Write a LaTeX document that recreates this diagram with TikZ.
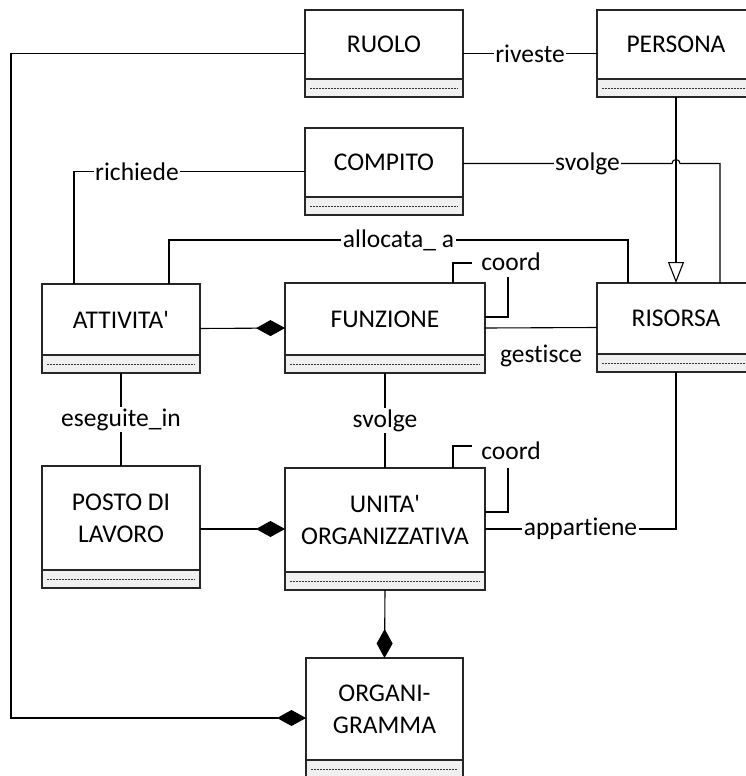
\documentclass[tikz,border=0pt]{standalone}
\usepackage{fontspec}
\setmainfont{Carlito}[Ligatures={TeXOff,NoCommon}]
\usetikzlibrary{arrows.meta,fit,calc}

% UML class: upper compartment with the name, empty attribute compartment below,
% and an invisible node #1 that spans the whole class for the connectors
\newcommand\umlclass[6]{%
  \node[clstop, minimum width=#4pt, minimum height=#5pt] (#1-t) at (#2,#3) {#6};
  \node[clsattr, minimum width=#4pt] (#1-a) at (#1-t.south) {};
  \node[fit=(#1-t)(#1-a), inner sep=0pt, outer sep=0pt] (#1) {};
}

\begin{document}
\begin{tikzpicture}[x=1pt,y=-1pt,
  font=\fontsize{25.5}{32}\selectfont,
  clstop/.style={draw=black!85, line width=1.3pt, fill=white, inner sep=0pt,
    outer sep=0pt, align=center, anchor=north west},
  clsattr/.style={draw=black!85, line width=1.3pt, fill=black!6, inner sep=0pt,
    outer sep=0pt, minimum height=18pt, anchor=north,
    path picture={\draw[black!80, line width=1pt, dash pattern=on 2pt off 1pt]
      ($(path picture bounding box.west)+(5pt,0)$) --
      ($(path picture bounding box.east)+(-5pt,0)$);}},
  conn/.style={draw=black, line width=1.1pt},
  comp/.style={conn, -{Diamond[length=29pt,width=16pt]}},
  gen/.style={conn, -{Triangle[open,length=21pt,width=16pt,fill=white]}},
  lbl/.style={fill=white, inner sep=1.5pt},
]
\useasboundingbox (0,0) rectangle (745,776);
\fill[white] (0,0) rectangle (745,776);

% classes
\umlclass{ruolo}{305}{10}{158}{69}{RUOLO}
\umlclass{persona}{597}{10}{158}{69}{PERSONA}
\umlclass{compito}{305}{128}{158}{69}{COMPITO}
\umlclass{attivita}{42}{284}{158}{71}{ATTIVITA'}
\umlclass{funzione}{285}{283}{200}{72}{FUNZIONE}
\umlclass{risorsa}{597}{283}{158}{71}{RISORSA}
\umlclass{posto}{42}{466}{158}{104}{POSTO DI\\LAVORO}
\umlclass{unita}{285}{468}{200}{104}{UNITA'\\ORGANIZZATIVA}
\umlclass{organigramma}{306}{658}{157}{102}{ORGANI-\\GRAMMA}

% reference columns for the routed connectors
\coordinate (leftrail) at (11,0);
\coordinate (richx) at (74,0);
\coordinate (allocl) at (169,0);
\coordinate (allocr) at (628,0);
\coordinate (svolgex) at (720,0);

% RUOLO -- ORGANIGRAMMA
\draw[comp] (ruolo.west) -- (leftrail |- ruolo.west) -- (leftrail |- organigramma.west)
  -- (organigramma.west);

% riveste
\draw[conn] (ruolo.east) -- node[lbl]{riveste} (persona.west);

% PERSONA is a RISORSA
\draw[gen] (persona.south) -- (risorsa.north);

% svolge (COMPITO -- RISORSA), hopping over the generalization line
\coordinate (svy) at ($(compito.east)+(0,-8)$);
\draw[conn] (svy) -- ($(persona.south |- svy)+(-4,0)$)
  arc[start angle=180, end angle=0, radius=4pt]
  -- (svolgex |- svy) -- (svolgex |- risorsa.north);
\node[lbl] (svolgelbl) at ($(svy)!0.5!(svolgex |- svy)+(-4,0)$) {svolge};

% richiede
\draw[conn] (compito.west) -- (richx |- compito.west) -- (richx |- attivita.north);
\node[lbl] (richlbl) at (137,0 |- compito.west) {richiede};

% allocata_ a
\draw[conn] (allocl |- attivita.north) -- (allocl |- 0,240)
  -- node[lbl]{allocata\_ a} (allocr |- 0,240) -- (allocr |- risorsa.north);

% ATTIVITA' part of FUNZIONE
\draw[comp] (attivita.east) -- (funzione.west);

% coord (FUNZIONE self association)
\draw[conn] (453,0 |- funzione.north) -- (453,263) -- (472,263);
\draw[conn] (508,277) -- (508,317) -- (funzione.east |- 0,317);
\node (fcoord) at (511,262) {coord};

% gestisce
\draw[conn] (funzione.east) -- (risorsa.west);
\node (gestlbl) at ($(funzione.east)!0.5!(risorsa.west)+(0,28)$) {gestisce};

% eseguite_in
\draw[conn] (attivita.south) -- node[lbl]{eseguite\_in} (posto.north);

% svolge (FUNZIONE -- UNITA')
\draw[conn] (funzione.south) -- node[lbl]{svolge} (unita.north);

% coord (UNITA' self association)
\draw[conn] (453,0 |- unita.north) -- (453,446) -- (472,446);
\draw[conn] (508,0 |- unita.north) -- (508,512) -- (unita.east |- 0,512);
\node (ucoord) at (511,451) {coord};

% appartiene
\draw[conn] (unita.east) -| node[lbl, pos=0.25]{appartiene} (risorsa.south);

% POSTO DI LAVORO part of UNITA'
\draw[comp] (posto.east |- unita.west) -- (unita.west);

% UNITA' part of ORGANIGRAMMA
\draw[comp] (unita.south) -- (organigramma.north);
\end{tikzpicture}
\end{document}
